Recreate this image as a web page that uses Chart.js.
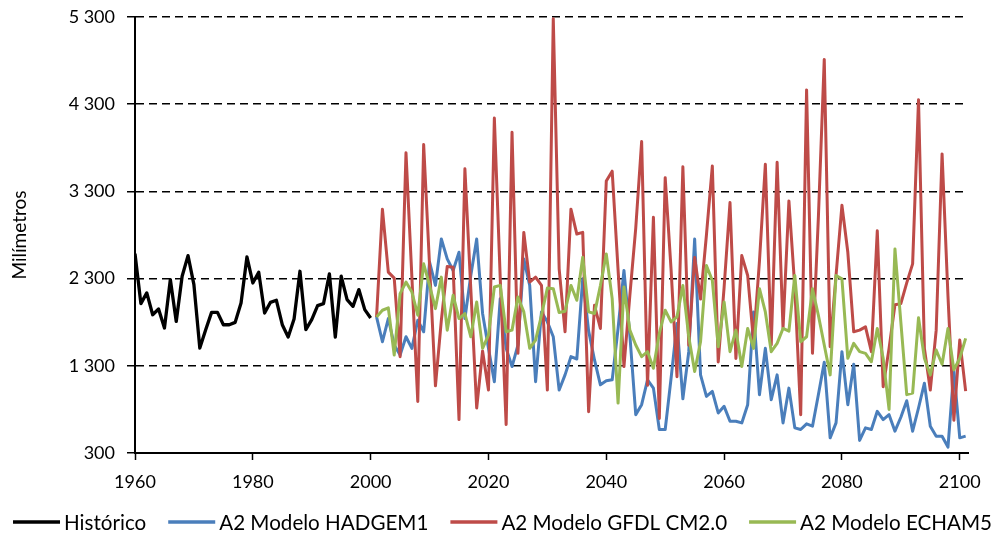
<!DOCTYPE html>
<html>
<head>
<meta charset="utf-8">
<script src="https://cdn.jsdelivr.net/npm/chart.js@4/dist/chart.umd.min.js"></script>
<style>
html,body{margin:0;padding:0;background:#fff;}
#wrap{width:998px;height:537px;position:relative;}
</style>
</head>
<body>
<div id="wrap"><canvas id="c" width="998" height="537"></canvas></div>
<script>
// ---- Data ----
const seriesNames = ["Histórico", "A2 Modelo HADGEM1", "A2 Modelo GFDL CM2.0", "A2 Modelo ECHAM5"];
const histStartYear = 1960;
const projStartYear = 2001;

const historico = [2587, 2013, 2136, 1886, 1952, 1733, 2289, 1809, 2327, 2564,
  2231, 1503, 1714, 1913, 1913, 1771, 1771, 1798, 2020, 2548,
  2250, 2373, 1905, 2028, 2051, 1771, 1630, 1837, 2384, 1714,
  1829, 1990, 2013, 2354, 1630, 2327, 2059, 1982, 2174, 1944,
  1848];

const hadgem1 = [1861, 1576, 1842, 1538, 1424, 1633, 1500, 1823, 1690, 2488,
  2222, 2754, 2526, 2393, 2602, 1842, 2336, 2754, 1900, 1500,
  1118, 2070, 1500, 1291, 1538, 2526, 2222, 1118, 1918, 1804,
  1633, 1022, 1196, 1405, 1378, 2298, 1700, 1367, 1082, 1128,
  1139, 1728, 2393, 1652, 740, 854, 1139, 1044, 569, 569,
  1158, 1785, 922, 1462, 2754, 1196, 949, 1006, 759, 835,
  664, 664, 645, 854, 1918, 968, 1500, 911, 1196, 645,
  1044, 588, 569, 634, 607, 968, 1340, 474, 645, 1462,
  854, 1318, 444, 588, 569, 778, 683, 740, 550, 710,
  900, 550, 816, 1101, 607, 493, 493, 368, 1250, 474,
  493];

const gfdl = [1860, 3096, 2374, 2305, 1405, 3742, 2317, 892, 3837, 2450,
  1070, 1820, 2439, 2431, 683, 3559, 2184, 816, 1470, 1022,
  4141, 2300, 626, 3978, 1443, 2830, 2260, 2316, 2222, 1022,
  5281, 2412, 1690, 3096, 2811, 2830, 774, 1994, 1728, 3419,
  3532, 2400, 1291, 2108, 2880, 3871, 1076, 3004, 695, 3457,
  2400, 1175, 3582, 1536, 2541, 2066, 2800, 3590, 1345, 2200,
  3172, 1384, 2564, 2336, 1576, 2500, 3610, 1538, 3635, 1728,
  3191, 2200, 740, 4464, 1443, 3000, 4814, 1519, 2336, 3141,
  2602, 1690, 1709, 1747, 1462, 2849, 1060, 1500, 2000, 2013,
  2250, 2469, 4350, 1500, 1022, 1709, 3730, 2100, 675, 1595,
  1010];

const echam5 = [1861, 1937, 1964, 1424, 2127, 2260, 2146, 1880, 2469, 2222,
  1956, 2317, 1709, 2108, 1842, 1899, 1633, 2032, 1500, 1652,
  2203, 2222, 1690, 1709, 2089, 1918, 1500, 1595, 1880, 2192,
  2184, 1911, 1926, 2222, 2051, 2545, 1918, 1899, 2220, 2583,
  2070, 872, 2203, 1709, 1538, 1405, 1462, 1272, 1671, 1937,
  1804, 1861, 2222, 1633, 1234, 1576, 2450, 2279, 1519, 2032,
  1462, 1709, 1291, 1728, 1500, 2184, 1918, 1462, 1557, 1728,
  1698, 2336, 1576, 1633, 2184, 1880, 1538, 1196, 2336, 2298,
  1386, 1557, 1462, 1443, 1346, 1728, 1386, 800, 2640, 1800,
  969, 987, 1850, 1386, 1196, 1481, 1318, 1728, 1253, 1386,
  1614];

const xTickValues = [1960, 1980, 2000, 2020, 2040, 2060, 2080, 2100];
const yTickValues = [300, 1300, 2300, 3300, 4300, 5300];
const yAxisTitle = "Milímetros";

// ---- Build points ----
function toPoints(startYear, values) {
  return values.map((v, i) => ({ x: startYear + i, y: v }));
}

const FONT = "Lato";
const colors = ["#000000", "#4A7EBB", "#BE4B48", "#98B954"];

function fmt(v) {
  return String(v).replace(/\B(?=(\d{3})+(?!\d))/g, " ");
}

const datasets = [
  { label: seriesNames[0], data: toPoints(histStartYear, historico), borderColor: colors[0], backgroundColor: colors[0], borderWidth: 3.3, order: 4 },
  { label: seriesNames[1], data: toPoints(projStartYear, hadgem1), borderColor: colors[1], backgroundColor: colors[1], borderWidth: 3, order: 3 },
  { label: seriesNames[2], data: toPoints(projStartYear, gfdl), borderColor: colors[2], backgroundColor: colors[2], borderWidth: 3, order: 2 },
  { label: seriesNames[3], data: toPoints(projStartYear, echam5), borderColor: colors[3], backgroundColor: colors[3], borderWidth: 3, order: 1 }
];
datasets.forEach(d => { d.pointRadius = 0; d.tension = 0; d.fill = false; d.borderJoinStyle = 'round'; });

// Legend drawn at the bottom, in dataset order, line samples
const bottomLegend = {
  id: 'bottomLegend',
  afterDraw(chart) {
    const ctx = chart.ctx;
    const cfg = { font: '20.6px ' + FONT, box: 47, boxGap: 4, itemGap: 22, cx: 502.5, cy: 522 };
    ctx.save();
    ctx.font = cfg.font;
    const items = chart.data.datasets.map(d => ({ text: d.label, color: d.borderColor, w: ctx.measureText(d.label).width }));
    const total = items.reduce((s, it) => s + cfg.box + cfg.boxGap + it.w, 0) + cfg.itemGap * (items.length - 1);
    let x = cfg.cx - total / 2;
    ctx.textBaseline = 'middle';
    ctx.textAlign = 'left';
    items.forEach(it => {
      ctx.strokeStyle = it.color;
      ctx.lineWidth = 3.5;
      ctx.beginPath();
      ctx.moveTo(x, cfg.cy);
      ctx.lineTo(x + cfg.box, cfg.cy);
      ctx.stroke();
      ctx.fillStyle = '#000';
      ctx.fillText(it.text, x + cfg.box + cfg.boxGap, cfg.cy + 1);
      x += cfg.box + cfg.boxGap + it.w + cfg.itemGap;
    });
    ctx.restore();
  }
};

new Chart(document.getElementById('c'), {
  type: 'line',
  data: { datasets },
  plugins: [bottomLegend],
  options: {
    responsive: false,
    animation: false,
    devicePixelRatio: 1,
    layout: { padding: { left: 0, right: 30, top: 17, bottom: 45 } },
    plugins: {
      tooltip: { enabled: false },
      legend: { display: false }
    },
    scales: {
      x: {
        type: 'linear',
        min: 1960,
        max: 2101.4,
        afterBuildTicks: (s) => { s.ticks = xTickValues.map(v => ({ value: v })); },
        afterFit: (s) => { s.height = 39; },
        ticks: { color: '#000', font: { family: FONT, size: 18 }, padding: 11, maxRotation: 0, callback: v => String(v) },
        grid: { display: true, drawOnChartArea: false, drawTicks: true, tickLength: 7, color: '#000', tickWidth: 1.5 },
        border: { display: true, color: '#000', width: 2 }
      },
      y: {
        type: 'linear',
        min: 300,
        max: 5300,
        afterBuildTicks: (s) => { s.ticks = yTickValues.map(v => ({ value: v })); },
        afterFit: (s) => { s.width = 135; s.paddingTop = 4; s.paddingBottom = 4; },
        ticks: { color: '#000', font: { family: FONT, size: 18 }, padding: 12, callback: v => fmt(v) },
        grid: { display: true, drawOnChartArea: true, drawTicks: true, tickLength: 8, color: '#000', lineWidth: 1.5, tickWidth: 1.5, tickBorderDash: [] },
        border: { display: true, color: '#000', width: 2, dash: [8, 5] },
        title: { display: true, text: yAxisTitle, color: '#000', font: { family: FONT, size: 19 }, padding: { top: 8, bottom: 0 } }
      }
    }
  }
});
</script>
</body>
</html>
